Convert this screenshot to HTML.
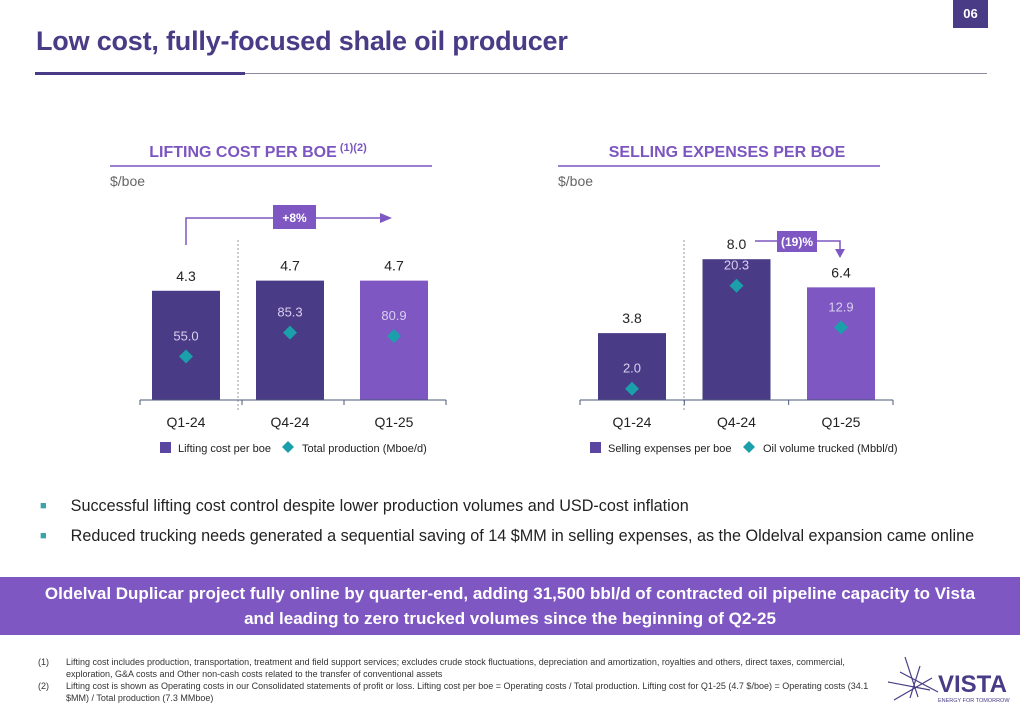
<!DOCTYPE html>
<html><head><meta charset="utf-8"><style>
body{margin:0;width:1020px;height:716px;overflow:hidden;background:#fff;font-family:"Liberation Sans",sans-serif;position:relative}
.a{position:absolute}
</style></head><body>
<div class="a" style="left:953px;top:0;width:35px;height:28px;background:#4a3b86;color:#fff;font-size:13px;font-weight:bold;text-align:center;line-height:28px">06</div>
<div class="a" style="left:36px;top:26px;font-size:27px;font-weight:bold;color:#4a3b86;letter-spacing:-0.2px">Low cost, fully-focused shale oil producer</div>
<div class="a" style="left:35px;top:73px;width:952px;height:1px;background:#8a8aa0"></div>
<div class="a" style="left:35px;top:72px;width:210px;height:3px;background:#4a3b86"></div>

<svg class="a" style="left:0;top:0" width="1020" height="480">
<g id="c1"></g><g id="c2"></g>
</svg>

<div class="a" style="left:40px;top:497px;font-size:16.2px;color:#222"><span style="color:#3aa3a8;font-size:11px;vertical-align:2px">■</span><span style="margin-left:24px">Successful lifting cost control despite lower production volumes and USD-cost inflation</span></div>
<div class="a" style="left:40px;top:527px;font-size:16.2px;color:#222"><span style="color:#3aa3a8;font-size:11px;vertical-align:2px">■</span><span style="margin-left:24px">Reduced trucking needs generated a sequential saving of 14 $MM in selling expenses, as the Oldelval expansion came online</span></div>
<div class="a" style="left:0;top:577px;width:1020px;height:58px;background:#7e57c2;color:#fff;font-weight:bold;font-size:17px;text-align:center;line-height:25px;padding-top:4px;box-sizing:border-box">Oldelval Duplicar project fully online by quarter-end, adding 31,500 bbl/d of contracted oil pipeline capacity to Vista<br>and leading to zero trucked volumes since the beginning of Q2-25</div>
<div class="a" style="left:38px;top:656px;width:835px;font-size:9px;color:#333;line-height:12px">
<div style="display:flex"><span style="width:28px;flex:none">(1)</span><span>Lifting cost includes production, transportation, treatment and field support services; excludes crude stock fluctuations, depreciation and amortization, royalties and others, direct taxes, commercial, exploration, G&amp;A costs and Other non-cash costs related to the transfer of conventional assets</span></div>
<div style="display:flex"><span style="width:28px;flex:none">(2)</span><span>Lifting cost is shown as Operating costs in our Consolidated statements of profit or loss. Lifting cost per boe = Operating costs / Total production. Lifting cost for Q1-25 (4.7 $/boe) = Operating costs (34.1 $MM) / Total production (7.3 MMboe)</span></div>
</div>
<svg class="a" style="left:880px;top:652px" width="140" height="60">
<g stroke="#4a3b86" stroke-width="1.2"><line x1="8" y1="30" x2="50" y2="38"/><line x1="25" y1="5" x2="38" y2="45"/><line x1="40" y1="14" x2="30" y2="46"/><line x1="14" y1="48" x2="52" y2="26"/><line x1="20" y1="20" x2="58" y2="40"/></g>
<text x="58" y="40" font-size="24" font-weight="bold" fill="#4a3b86" font-family="Liberation Sans">VISTA</text>
<text x="58" y="50" font-size="5.5" fill="#4a3b86" font-family="Liberation Sans">ENERGY FOR TOMORROW</text>
</svg>

<script>
const cats=["Q1-24","Q4-24","Q1-25"];
const liftCost=[4.3,4.7,4.7];
const production=[55.0,85.3,80.9];
const sellExp=[3.8,8.0,6.4];
const trucked=[2.0,20.3,12.9];
const NS="http://www.w3.org/2000/svg";
function mk(p,t,a,txt){const e=document.createElementNS(NS,t);for(const k in a)e.setAttribute(k,a[k]);if(txt!=null)e.textContent=txt;p.appendChild(e);return e;}
function chart(g,o){
 const base=400;
 const yB=v=>base-v*o.barScale, yD=v=>base-v*o.dScale;
 let t=mk(g,'text',{x:o.cx,y:157,'text-anchor':'middle','font-size':16,'font-weight':'bold',fill:'#7b55c0'},o.title);
 
 if(o.sup){mk(t,'tspan',{'font-size':11,dy:-6},' '+o.sup);}
 mk(g,'line',{x1:o.ul[0],x2:o.ul[1],y1:166,y2:166,stroke:'#7b55c0','stroke-width':1.5});
 t=mk(g,'text',{x:o.ul[0],y:186,'font-size':14,fill:'#666'},'$/boe');
 
 mk(g,'line',{x1:o.div,x2:o.div,y1:240,y2:410,stroke:'#999','stroke-dasharray':'2,2'});
 o.bars.forEach((v,i)=>{
  const x=o.x0+i*o.step, cx=x+34;
  const r=mk(g,'rect',{x:x,y:yB(v),width:68,height:v*o.barScale,fill:i==2?'#7e57c2':'#4a3b86'});
  
  mk(g,'text',{x:cx,y:yB(v)-10,'text-anchor':'middle','font-size':14,fill:'#222'},v.toFixed(1));
  const d=o.dots[i],dy=yD(d);
  const p=mk(g,'path',{d:`M${cx} ${dy-7}L${cx+7} ${dy}L${cx} ${dy+7}L${cx-7} ${dy}Z`,fill:'#1a9fab'});
  
  mk(g,'text',{x:cx,y:dy-16,'text-anchor':'middle','font-size':13,fill:'#d8d0ee'},d.toFixed(1));
  mk(g,'text',{x:cx,y:427,'text-anchor':'middle','font-size':14,fill:'#222'},cats[i]);
 });
 mk(g,'line',{x1:o.ax[0],x2:o.ax[1],y1:400,y2:400,stroke:'#4a5a7a','stroke-width':1});
 [o.ax[0],o.ax[0]+(o.ax[1]-o.ax[0])/3,o.ax[0]+2*(o.ax[1]-o.ax[0])/3,o.ax[1]].forEach(x=>mk(g,'line',{x1:x,x2:x,y1:400,y2:405,stroke:'#4a5a7a'}));
 mk(g,'rect',{x:o.lg[0],y:442,width:11,height:11,fill:'#5a45a0'});
 mk(g,'text',{x:o.lg[0]+18,y:452,'font-size':11,fill:'#222'},o.l1);
 mk(g,'path',{d:`M${o.lg[1]} 441L${o.lg[1]+6} 447L${o.lg[1]} 453L${o.lg[1]-6} 447Z`,fill:'#1a9fab'});
 mk(g,'text',{x:o.lg[1]+14,y:452,'font-size':11,fill:'#222'},o.l2);
}
const g1=document.getElementById('c1'),g2=document.getElementById('c2');
chart(g1,{title:'LIFTING COST PER BOE',sup:'(1)(2)',cx:258,ul:[110,432],div:238,x0:152,step:104,barScale:25.4,dScale:0.79,bars:liftCost,dots:production,ax:[140,446],lg:[160,288],l1:'Lifting cost per boe',l2:'Total production (Mboe/d)'});
chart(g2,{title:'SELLING EXPENSES PER BOE',cx:727,ul:[558,880],div:684,x0:598,step:104.5,barScale:17.6,dScale:5.63,bars:sellExp,dots:trucked,ax:[580,893],lg:[590,749],l1:'Selling expenses per boe',l2:'Oil volume trucked (Mbbl/d)'});
mk(g1,'path',{d:'M186 245V218H382',fill:'none',stroke:'#7e57c2','stroke-width':1.5});
mk(g1,'path',{d:'M380 213L392 218L380 223Z',fill:'#7e57c2'});
mk(g1,'rect',{x:273,y:205,width:43,height:24,fill:'#7e57c2'});
mk(g1,'text',{x:294.5,y:222,'text-anchor':'middle','font-size':12,'font-weight':'bold',fill:'#fff'},'+8%');
mk(g2,'path',{d:'M755 241H840V250',fill:'none',stroke:'#7e57c2','stroke-width':1.5});
mk(g2,'path',{d:'M835 249L840 258L845 249Z',fill:'#7e57c2'});
mk(g2,'rect',{x:777,y:231,width:40,height:21,fill:'#7e57c2'});
mk(g2,'text',{x:797,y:246,'text-anchor':'middle','font-size':12,'font-weight':'bold',fill:'#fff'},'(19)%');
</script>
</body></html>
